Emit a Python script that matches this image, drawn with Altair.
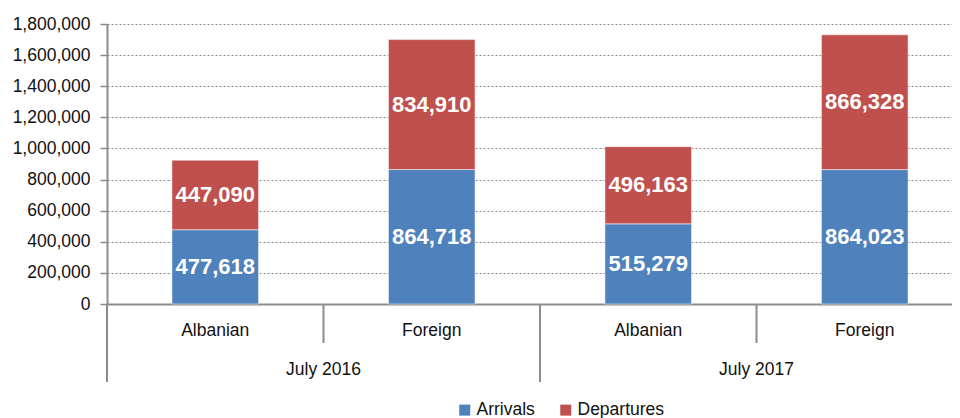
import altair as alt
import pandas as pd

periods = ["July 2016", "July 2016", "July 2017", "July 2017"]
nationality = ["Albanian", "Foreign", "Albanian", "Foreign"]
arrivals = [477618, 864718, 515279, 864023]
departures = [447090, 834910, 496163, 866328]
series = ["Arrivals", "Departures"]
colors = ["#4F81BD", "#C0504D"]
y_ticks = [0, 200000, 400000, 600000, 800000, 1000000, 1200000, 1400000, 1600000, 1800000]
group_labels = ["July 2016", "July 2017"]

FONT = "Liberation Sans"
W = 845          # visible plot width (plot runs past the window's right edge)
STEP = 216.5     # width of one category slot

keys = [f"{p}|{n}" for p, n in zip(periods, nationality)]
rows = []
for k, p, n, a, d in zip(keys, periods, nationality, arrivals, departures):
    rows.append({"key": k, "period": p, "nat": n, "series": series[0], "value": a, "ord": 0})
    rows.append({"key": k, "period": p, "nat": n, "series": series[1], "value": d, "ord": 1})
df = pd.DataFrame(rows)

n = len(keys)
pi = 0.6
po = (W / STEP - n + pi) / 2
align = ((STEP - STEP * (1 - pi)) / 2) / (W - STEP * (n - pi))
xband = alt.Scale(type="band", paddingInner=pi, paddingOuter=po, align=align)
yscale = alt.Scale(domain=[0, 1800000], nice=False)
qx = alt.Scale(domain=[0, W / STEP], nice=False, zero=False)

yaxis = alt.Axis(values=y_ticks, format=",.0f", labelFont=FONT, labelFontSize=17.5,
                 labelColor="#111111", tickSize=7, tickColor="#8c8c8c", tickWidth=1.5,
                 domainColor="#8c8c8c", domainWidth=2, labelPadding=10,
                 grid=True, gridColor="#888888", gridDash=[2, 2], gridWidth=1)

bars = alt.Chart(df).mark_bar(stroke="#ffffff", strokeWidth=0.5).encode(
    x=alt.X("key:N", sort=keys, scale=xband, title=None,
            axis=alt.Axis(labelExpr="split(datum.label, '|')[1]", labelAngle=0,
                          ticks=False, labelPadding=26, labelBaseline="middle",
                          labelFont=FONT, labelFontSize=17.5, labelColor="#111111",
                          domainColor="#8c8c8c", domainWidth=2, grid=False)),
    y=alt.Y("value:Q", stack="zero", scale=yscale, title=None, axis=yaxis),
    color=alt.Color("series:N", scale=alt.Scale(domain=series, range=colors),
                    legend=alt.Legend(orient="none", legendX=349, legendY=377,
                                      direction="horizontal", title=None,
                                      symbolType="square", symbolSize=121,
                                      symbolStrokeWidth=0, symbolOpacity=1,
                                      labelFont=FONT, labelFontSize=17.5,
                                      labelColor="#111111", columnPadding=22,
                                      labelOffset=3)),
    order=alt.Order("ord:Q"),
)

labels = alt.Chart(df).transform_stack(
    stack="value", groupby=["key"], as_=["v0", "v1"], sort=[alt.SortField("ord")]
).transform_calculate(mid="(datum.v0 + datum.v1) / 2").mark_text(
    color="white", font=FONT, fontWeight="bold", fontSize=22, baseline="middle"
).encode(
    x=alt.X("key:N", sort=keys, scale=xband, axis=None),
    y=alt.Y("mid:Q", scale=yscale, title=None, axis=yaxis),
    text=alt.Text("value:Q", format=","),
)

# group label centred under its categories (mean slot index + 0.5)
gdf = pd.DataFrame({"period": periods, "idx": range(n)}).groupby(
    "period", as_index=False)["idx"].mean()
gdf["center"] = gdf["idx"] + 0.5
glabels = alt.Chart(gdf).mark_text(
    font=FONT, fontSize=17.5, color="#111111", baseline="middle"
).encode(
    x=alt.X("center:Q", scale=qx, axis=None),
    y=alt.value(346),
    text="period:N",
)

sep_long = pd.DataFrame({"idx": [0, 2, 4]})
sep_short = pd.DataFrame({"idx": [1, 3]})
rule_long = alt.Chart(sep_long).mark_rule(color="#8c8c8c", strokeWidth=2).encode(
    x=alt.X("idx:Q", scale=qx, axis=None), y=alt.value(280), y2=alt.value(358))
rule_short = alt.Chart(sep_short).mark_rule(color="#8c8c8c", strokeWidth=2).encode(
    x=alt.X("idx:Q", scale=qx, axis=None), y=alt.value(280), y2=alt.value(319))

chart = alt.layer(bars, labels, glabels, rule_long, rule_short).resolve_scale(
    x="independent"
).properties(
    width=W, height=280,
    autosize=alt.AutoSizeParams(type="none"),
    padding={"left": 99, "top": 16, "right": 0, "bottom": 114},
).configure_view(stroke=None)

chart.save("out.html", embed_options={"renderer": "svg", "actions": False})
